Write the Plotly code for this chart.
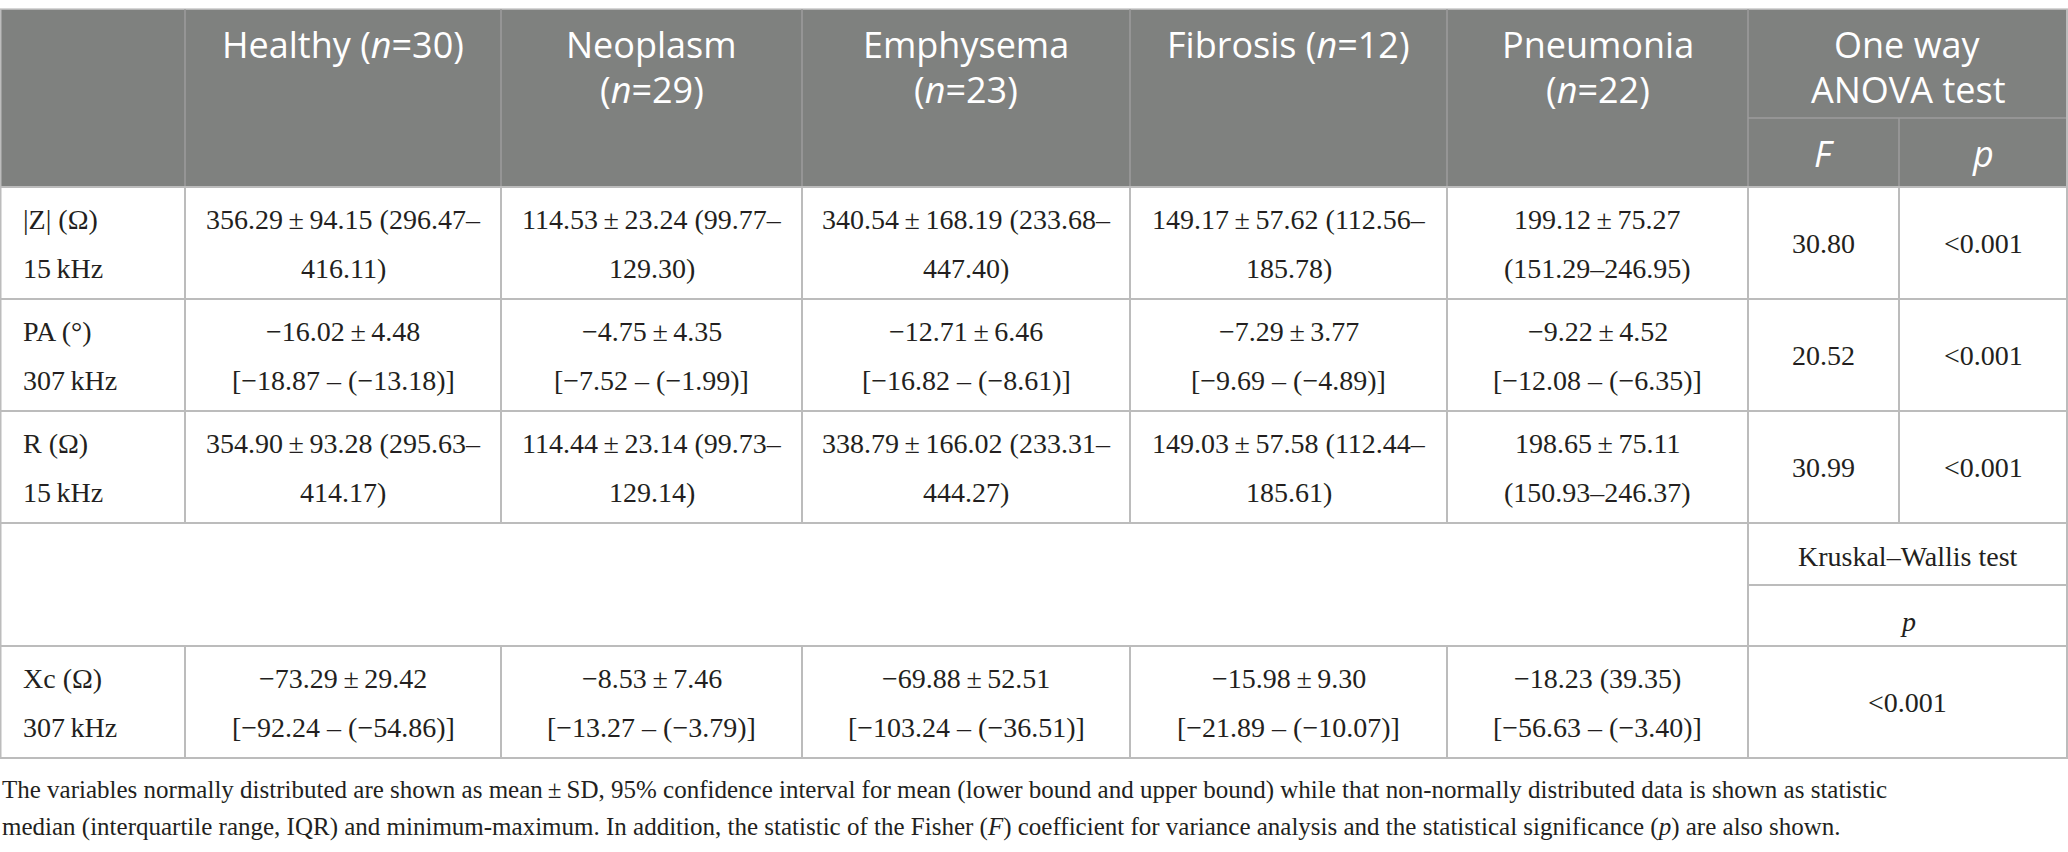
import plotly.graph_objects as go

# --- table content ---
groups = ["Healthy", "Neoplasm", "Emphysema", "Fibrosis", "Pneumonia"]
group_n = [30, 29, 23, 12, 22]
header_split = [False, True, True, False, True]  # put (n=..) on a second line

row_labels = [["|Z| (Ω)", "15\u2009kHz"],
              ["PA (°)", "307\u2009kHz"],
              ["R (Ω)", "15\u2009kHz"],
              ["Xc (Ω)", "307\u2009kHz"]]

z_mean = [356.29, 114.53, 340.54, 149.17, 199.12]
z_sd = [94.15, 23.24, 168.19, 57.62, 75.27]
z_ci_low = [296.47, 99.77, 233.68, 112.56, 151.29]
z_ci_high = [416.11, 129.30, 447.40, 185.78, 246.95]

pa_mean = [-16.02, -4.75, -12.71, -7.29, -9.22]
pa_sd = [4.48, 4.35, 6.46, 3.77, 4.52]
pa_ci_low = [-18.87, -7.52, -16.82, -9.69, -12.08]
pa_ci_high = [-13.18, -1.99, -8.61, -4.89, -6.35]

r_mean = [354.90, 114.44, 338.79, 149.03, 198.65]
r_sd = [93.28, 23.14, 166.02, 57.58, 75.11]
r_ci_low = [295.63, 99.73, 233.31, 112.44, 150.93]
r_ci_high = [414.17, 129.14, 444.27, 185.61, 246.37]

xc_center = [-73.29, -8.53, -69.88, -15.98, -18.23]
xc_spread = [29.42, 7.46, 52.51, 9.30, 39.35]
xc_low = [-92.24, -13.27, -103.24, -21.89, -56.63]
xc_high = [-54.86, -3.79, -36.51, -10.07, -3.40]
xc_median_iqr = [False, False, False, False, True]

anova_F = [30.80, 20.52, 30.99]
anova_p = ["<0.001", "<0.001", "<0.001"]
kruskal_p = "<0.001"

footnote = ["The variables normally distributed are shown as mean\u2009±\u2009SD, 95% confidence interval for mean "
            "(lower bound and upper bound) while that non-normally distributed data is shown as statistic",
            "median (interquartile range, IQR) and minimum-maximum. In addition, the statistic of the Fisher "
            "(<i>F</i>) coefficient for variance analysis and the statistical significance (<i>p</i>) are also shown."]

# --- geometry ---
W, H = 2068, 852
col_x = [0, 185, 501, 802, 1130, 1447, 1748, 1899, 2067]
top, head_mid, head_bot = 9, 118, 187
row_y = [187, 299, 411, 523, 585, 646, 758]

HEAD_BG = "#7f817f"
HEAD_LINE = "#9c9d9c"
GRID = "#bcbcbc"
TXT = "#231f20"
SERIF = "Liberation Serif"
SANS = "Open Sans"
BODY = 28
HEAD = 36


def num(v):
    s = f"{abs(v):.2f}"
    return ("\u2212" + s) if v < 0 else s


def pm(a, b):
    return f"{num(a)}\u2009±\u2009{num(b)}"


fig = go.Figure()
shapes = []
ann = []


def hline(y, x0, x1, color=GRID, w=2):
    shapes.append(dict(type="line", x0=x0, x1=x1, y0=y, y1=y, line=dict(color=color, width=w)))


def vline(x, y0, y1, color=GRID, w=2):
    shapes.append(dict(type="line", x0=x, x1=x, y0=y0, y1=y1, line=dict(color=color, width=w)))


def text(x, y, s, size=BODY, font=SERIF, color=TXT, align="center"):
    ann.append(dict(x=x, y=y, xref="x", yref="y", text=s, showarrow=False,
                    xanchor=align, yanchor="middle",
                    font=dict(family=font, size=size, color=color)))


# header background
shapes.append(dict(type="rect", x0=0, x1=W, y0=top, y1=head_bot,
                   fillcolor=HEAD_BG, line=dict(width=0), layer="below"))
hline(top, 0, W, color="#c8c8c8", w=1.5)
for x in col_x[1:7]:
    vline(x, top, head_bot, color=HEAD_LINE, w=1.5)
vline(col_x[7], head_mid, head_bot, color=HEAD_LINE, w=1.5)
hline(head_mid, col_x[6], W, color=HEAD_LINE, w=1.5)

# header text
for i, (g, n) in enumerate(zip(groups, group_n)):
    cx = (col_x[i + 1] + col_x[i + 2]) / 2
    if header_split[i]:
        text(cx, 44, g, HEAD, SANS, "white")
        text(cx, 89, f"(<i>n</i>={n})", HEAD, SANS, "white")
    else:
        text(cx, 44, f"{g} (<i>n</i>={n})", HEAD, SANS, "white")
anova_cx = (col_x[6] + col_x[8]) / 2
text(anova_cx, 44, "One way", HEAD, SANS, "white")
text(anova_cx, 89, "ANOVA test", HEAD, SANS, "white")
text((col_x[6] + col_x[7]) / 2, 153, "<i>F</i>", HEAD, SANS, "white")
text((col_x[7] + col_x[8]) / 2, 153, "<i>p</i>", HEAD, SANS, "white")

# body grid
for y in row_y[:4] + row_y[5:]:
    hline(y, 0, W)
hline(row_y[4], col_x[6], W)
vline(0.5, top, row_y[-1])
vline(W - 1, top, row_y[-1])
for x in col_x[1:7]:
    vline(x, row_y[0], row_y[3])
    vline(x, row_y[5], row_y[6])
vline(col_x[7], row_y[0], row_y[3])
vline(col_x[6], row_y[3], row_y[5])

# body rows
body = []
for i in range(5):
    if groups[i] == "Pneumonia":
        body_z = [pm(z_mean[i], z_sd[i]), f"({num(z_ci_low[i])}–{num(z_ci_high[i])})"]
        body_r = [pm(r_mean[i], r_sd[i]), f"({num(r_ci_low[i])}–{num(r_ci_high[i])})"]
    else:
        body_z = [f"{pm(z_mean[i], z_sd[i])} ({num(z_ci_low[i])}–", f"{num(z_ci_high[i])})"]
        body_r = [f"{pm(r_mean[i], r_sd[i])} ({num(r_ci_low[i])}–", f"{num(r_ci_high[i])})"]
    body_pa = [pm(pa_mean[i], pa_sd[i]), f"[{num(pa_ci_low[i])} – ({num(pa_ci_high[i])})]"]
    if xc_median_iqr[i]:
        first = f"{num(xc_center[i])} ({num(xc_spread[i])})"
    else:
        first = pm(xc_center[i], xc_spread[i])
    body_xc = [first, f"[{num(xc_low[i])} – ({num(xc_high[i])})]"]
    body.append([body_z, body_pa, body_r, body_xc])

row_spans = [(row_y[0], row_y[1]), (row_y[1], row_y[2]), (row_y[2], row_y[3]), (row_y[5], row_y[6])]
for r, (y0, y1) in enumerate(row_spans):
    mid = (y0 + y1) / 2
    text(21, mid - 24, row_labels[r][0], align="left")
    text(21, mid + 25, row_labels[r][1], align="left")
    for i in range(5):
        cx = (col_x[i + 1] + col_x[i + 2]) / 2
        text(cx, mid - 24, body[i][r][0])
        text(cx, mid + 25, body[i][r][1])

for r in range(3):
    mid = (row_spans[r][0] + row_spans[r][1]) / 2
    text((col_x[6] + col_x[7]) / 2, mid, f"{anova_F[r]:.2f}")
    text((col_x[7] + col_x[8]) / 2, mid, anova_p[r])

text(anova_cx, (row_y[3] + row_y[4]) / 2 + 2, "Kruskal–Wallis test")
text(anova_cx, (row_y[4] + row_y[5]) / 2 + 6, "<i>p</i>")
text(anova_cx, (row_y[5] + row_y[6]) / 2, kruskal_p)

# footnote
text(0, 790, footnote[0], 25, align="left")
text(0, 827, footnote[1], 25, align="left")

fig.update_layout(
    width=W, height=H,
    margin=dict(l=0, r=0, t=0, b=0),
    paper_bgcolor="white", plot_bgcolor="white",
    xaxis=dict(range=[0, W], visible=False, fixedrange=True),
    yaxis=dict(range=[H, 0], visible=False, fixedrange=True),
    shapes=shapes, annotations=ann,
    showlegend=False,
)

fig.write_html("out.html", config={"displayModeBar": False},
               post_script="document.body.style.margin='0';")
